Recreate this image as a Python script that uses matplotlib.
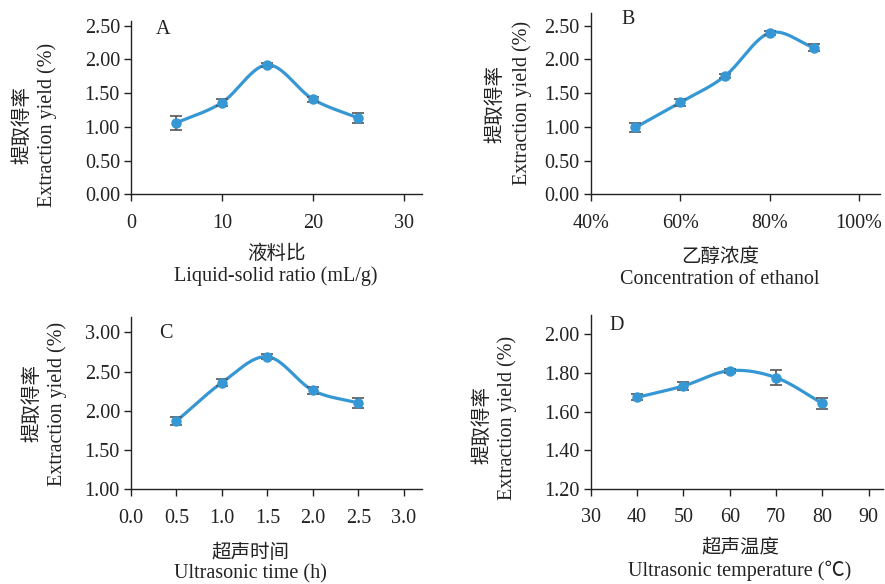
import numpy as np
import matplotlib
matplotlib.use('Agg')
import matplotlib.pyplot as plt

# data
ratio_x = [5, 10, 15, 20, 25]
ratio_y = [1.06, 1.36, 1.92, 1.41, 1.13]
ratio_err = [0.10, 0.05, 0.03, 0.04, 0.08]

eth_x = [50, 60, 70, 80, 90]
eth_y = [0.99, 1.36, 1.75, 2.39, 2.17]
eth_err = [0.07, 0.05, 0.03, 0.03, 0.05]

time_x = [0.5, 1.0, 1.5, 2.0, 2.5]
time_y = [1.87, 2.36, 2.69, 2.26, 2.10]
time_err = [0.05, 0.04, 0.03, 0.04, 0.06]

temp_x = [40, 50, 60, 70, 80]
temp_y = [1.674, 1.733, 1.812, 1.776, 1.643]
temp_err = [0.015, 0.02, 0.01, 0.04, 0.03]

BLUE = '#3597d3'
SERIF = ['Liberation Serif', 'Noto Sans CJK SC']
CJK = ['Noto Sans CJK SC', 'Liberation Serif']
FS = 14.5
TXT = '#222222'


def smooth(x, y, n=40):
    # hermite curve through the points, only for drawing the line
    x = np.asarray(x, float); y = np.asarray(y, float)
    m = np.gradient(y, x)
    xs = []; ys = []
    for i in range(len(x) - 1):
        h = x[i+1] - x[i]
        t = np.linspace(0, 1, n)
        h00 = 2*t**3 - 3*t**2 + 1; h10 = t**3 - 2*t**2 + t
        h01 = -2*t**3 + 3*t**2; h11 = t**3 - t**2
        xs.append(x[i] + t*h)
        ys.append(h00*y[i] + h10*h*m[i] + h01*y[i+1] + h11*h*m[i+1])
    return np.concatenate(xs), np.concatenate(ys)


def panel(rect, x, y, err, xlim, xticks, ylim, yticks, ytl, xtl, letter, lpos,
          cn_x, en_x, xlab_pos, cn_y, en_y, ylab_pos, en_gap=0.040):
    ax = fig.add_axes(rect)
    sx, sy = smooth(x, y)
    ax.plot(sx, sy, color=BLUE, lw=2.3, zorder=2)
    ax.errorbar(x, y, yerr=err, fmt='o', color=BLUE, ms=6.5, ecolor='#555555',
                elinewidth=1.2, capsize=4, capthick=1.2, zorder=3)
    ax.set_xlim(*xlim); ax.set_ylim(*ylim)
    ax.set_xticks(xticks); ax.set_xticklabels(xtl, family=SERIF, fontsize=FS, color=TXT)
    ax.set_yticks(yticks); ax.set_yticklabels(ytl, family=SERIF, fontsize=FS, color=TXT)
    for s in ['top', 'right']:
        ax.spines[s].set_visible(False)
    for s in ['left', 'bottom']:
        ax.spines[s].set_linewidth(1.0)
        ax.spines[s].set_color(TXT)
    ax.tick_params(direction='out', length=5, width=1.0, color=TXT)
    ax.tick_params(axis='y', pad=3)
    ax.tick_params(axis='x', pad=9)
    ax.text(lpos[0], lpos[1], letter, transform=ax.transAxes, family=SERIF,
            fontsize=FS, ha='center', va='center', color=TXT)
    fig.text(xlab_pos[0], xlab_pos[1], cn_x, family=CJK, fontsize=FS - 0.5,
             ha='center', va='center', color=TXT)
    fig.text(xlab_pos[0], xlab_pos[1] - en_gap, en_x, family=SERIF, fontsize=FS,
             ha='center', va='center', color=TXT)
    fig.text(ylab_pos[0], ylab_pos[1], cn_y, family=CJK, fontsize=FS - 0.5,
             rotation=90, ha='center', va='center', color=TXT)
    fig.text(ylab_pos[2], ylab_pos[3], en_y, family=SERIF, fontsize=FS,
             rotation=90, ha='center', va='center', color=TXT)
    return ax


fig = plt.figure(figsize=(8.85, 5.84), dpi=100)
W, H = 885.0, 584.0

yl = '提取得率'
yle = 'Extraction yield (%)'

panel([131/W, 1-194.3/H, 291/W, 173.3/H], ratio_x, ratio_y, ratio_err,
      (0, 32), [0, 10, 20, 30], (0, 2.57), [0, 0.5, 1.0, 1.5, 2.0, 2.5],
      ['0.00', '0.50', '1.00', '1.50', '2.00', '2.50'], ['0', '10', '20', '30'],
      'A', (0.11, 0.95), '液料比', 'Liquid-solid ratio (mL/g)', (276/W, 1-253/H),
      yl, yle, (21.7/W, 1-125/H, 46.7/W, 1-124.5/H))

panel([590.7/W, 1-194.3/H, 289.3/W, 181.6/H], eth_x, eth_y, eth_err,
      (40, 104.7), [40, 60, 80, 100], (0, 2.69), [0, 0.5, 1.0, 1.5, 2.0, 2.5],
      ['0.00', '0.50', '1.00', '1.50', '2.00', '2.50'], ['40%', '60%', '80%', '100%'],
      'B', (0.13, 0.96), '乙醇浓度', 'Concentration of ethanol', (720/W, 1-256/H),
      yl, yle, (495/W, 1-104/H, 521.7/W, 1-102.5/H))

panel([131/W, 1-489.3/H, 291/W, 172.6/H], time_x, time_y, time_err,
      (0, 3.2), [0, 0.5, 1.0, 1.5, 2.0, 2.5, 3.0], (1.0, 3.2), [1.0, 1.5, 2.0, 2.5, 3.0],
      ['1.00', '1.50', '2.00', '2.50', '3.00'],
      ['0.0', '0.5', '1.0', '1.5', '2.0', '2.5', '3.0'],
      'C', (0.12, 0.9), '超声时间', 'Ultrasonic time (h)', (250/W, 1-553/H),
      yl, yle, (31.7/W, 1-403/H, 56.7/W, 1-404/H), en_gap=0.036)

panel([590.7/W, 1-489/H, 292/W, 174/H], temp_x, temp_y, temp_err,
      (30, 93), [30, 40, 50, 60, 70, 80, 90], (1.2, 2.1), [1.2, 1.4, 1.6, 1.8, 2.0],
      ['1.20', '1.40', '1.60', '1.80', '2.00'],
      ['30', '40', '50', '60', '70', '80', '90'],
      'D', (0.09, 0.94), '超声温度', 'Ultrasonic temperature (℃)', (740/W, 1-547/H),
      yl, yle, (481.7/W, 1-425/H, 506.7/W, 1-418/H))

fig.savefig('out.png', dpi=100)
